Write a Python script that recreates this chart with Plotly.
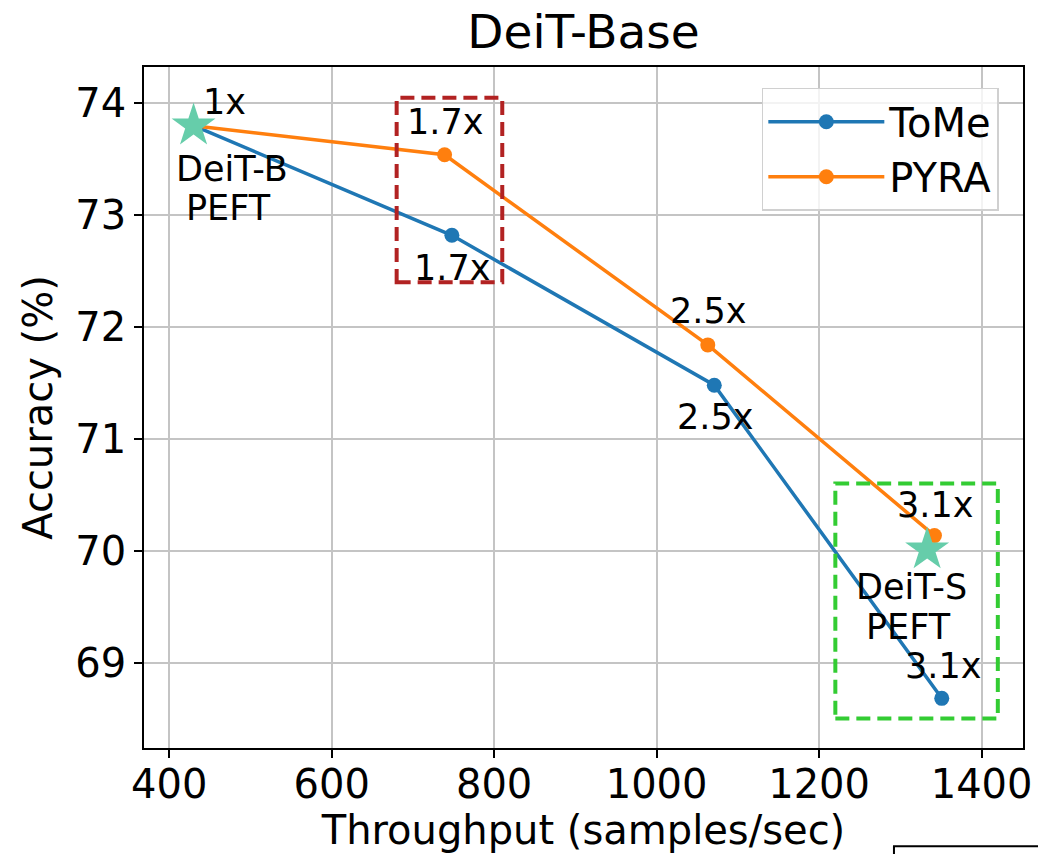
import plotly.graph_objects as go

# ---- data ----
tome_x = [430, 748, 1071, 1351]
tome_y = [73.80, 72.82, 71.48, 68.68]
pyra_x = [430, 739, 1063, 1342]
pyra_y = [73.80, 73.54, 71.84, 70.135]
star_x = [430, 1333]
star_y = [73.80, 70.01]
speedup = ["1x", "1.7x", "2.5x", "3.1x"]

x_ticks = [400, 600, 800, 1000, 1200, 1400]
y_ticks = [69, 70, 71, 72, 73, 74]

FONT = "DejaVu Sans"
BLUE = "#1f77b4"
ORANGE = "#ff7f0e"

fig = go.Figure()
fig.add_trace(go.Scatter(x=tome_x, y=tome_y, mode="lines+markers", name="ToMe",
                         line=dict(color=BLUE, width=3.5), marker=dict(size=15, color=BLUE)))
fig.add_trace(go.Scatter(x=pyra_x, y=pyra_y, mode="lines+markers", name="PYRA",
                         line=dict(color=ORANGE, width=3.5), marker=dict(size=15, color=ORANGE)))
fig.add_trace(go.Scatter(x=star_x, y=star_y, mode="markers", showlegend=False,
                         marker=dict(symbol="star", size=33, color="#66cdaa",
                                     line=dict(width=0))))

# highlight boxes
fig.add_shape(type="rect", xref="x", yref="y", x0=680, x1=810, y0=72.40, y1=74.05,
              line=dict(color="#b22222", width=4, dash="14px,7px"), fillcolor="rgba(0,0,0,0)")
fig.add_shape(type="rect", xref="x", yref="y", x0=1220, x1=1420, y0=68.50, y1=70.60,
              line=dict(color="#33cc33", width=4, dash="14px,7px"), fillcolor="rgba(0,0,0,0)")

# text labels
labels = [
    (468.5, 74.01, speedup[0]),
    (477, 73.41, "DeiT-B"),
    (473.5, 73.06, "PEFT"),
    (740, 73.83, speedup[1]),
    (747.6, 72.53, speedup[1]),
    (1063.4, 72.14, speedup[2]),
    (1071.6, 71.20, speedup[2]),
    (1342.4, 70.41, speedup[3]),
    (1313.7, 69.68, "DeiT-S"),
    (1310.4, 69.32, "PEFT"),
    (1352.5, 68.965, speedup[3]),
]
for lx, ly, t in labels:
    fig.add_annotation(x=lx, y=ly, xref="x", yref="y", text=t, showarrow=False,
                       xanchor="center", yanchor="middle",
                       font=dict(family=FONT, size=35, color="black"))

# partial frame of a neighbouring panel (bottom-right corner)
fig.add_shape(type="rect", xref="paper", yref="paper", x0=0.8532, x1=1.3, y0=-0.5, y1=-0.1441,
              line=dict(color="black", width=2), fillcolor="rgba(0,0,0,0)", layer="above")

axis_common = dict(showline=True, linecolor="black", linewidth=1.8, mirror=True,
                   ticks="outside", ticklen=8, tickwidth=1.5, tickcolor="black",
                   showgrid=True, gridcolor="#c4c4c4", gridwidth=1.6, zeroline=False,
                   automargin=False,
                   tickfont=dict(family=FONT, size=40, color="black"))

fig.update_xaxes(range=[369, 1451], tickvals=x_ticks, ticktext=[str(v) for v in x_ticks],
                 ticklabelstandoff=-8,
                 title=dict(text="Throughput (samples/sec)", standoff=10,
                            font=dict(family=FONT, size=40, color="black")),
                 **axis_common)
fig.update_yaxes(range=[68.236, 74.325], tickvals=y_ticks, ticktext=[str(v) for v in y_ticks],
                 title=dict(text="Accuracy (%)", standoff=10,
                            font=dict(family=FONT, size=40, color="black")),
                 **axis_common)

fig.update_layout(
    width=1038, height=854,
    margin=dict(l=144, r=15, t=67, b=106),
    paper_bgcolor="white", plot_bgcolor="white",
    title=dict(text="DeiT-Base", x=0.5, xref="paper", xanchor="center",
               y=0.963, yanchor="middle",
               font=dict(family=FONT, size=47, color="black")),
    legend=dict(x=0.9725, y=0.9695, xanchor="right", yanchor="top",
                bgcolor="rgba(255,255,255,0.8)", bordercolor="#d0d0d0", borderwidth=1.5,
                font=dict(family=FONT, size=40, color="black"),
                itemwidth=116, tracegroupgap=12),
    showlegend=True,
)

fig.write_html("out.html", config={"displayModeBar": False},
               post_script="document.body.style.margin='0';document.body.style.padding='0';")
